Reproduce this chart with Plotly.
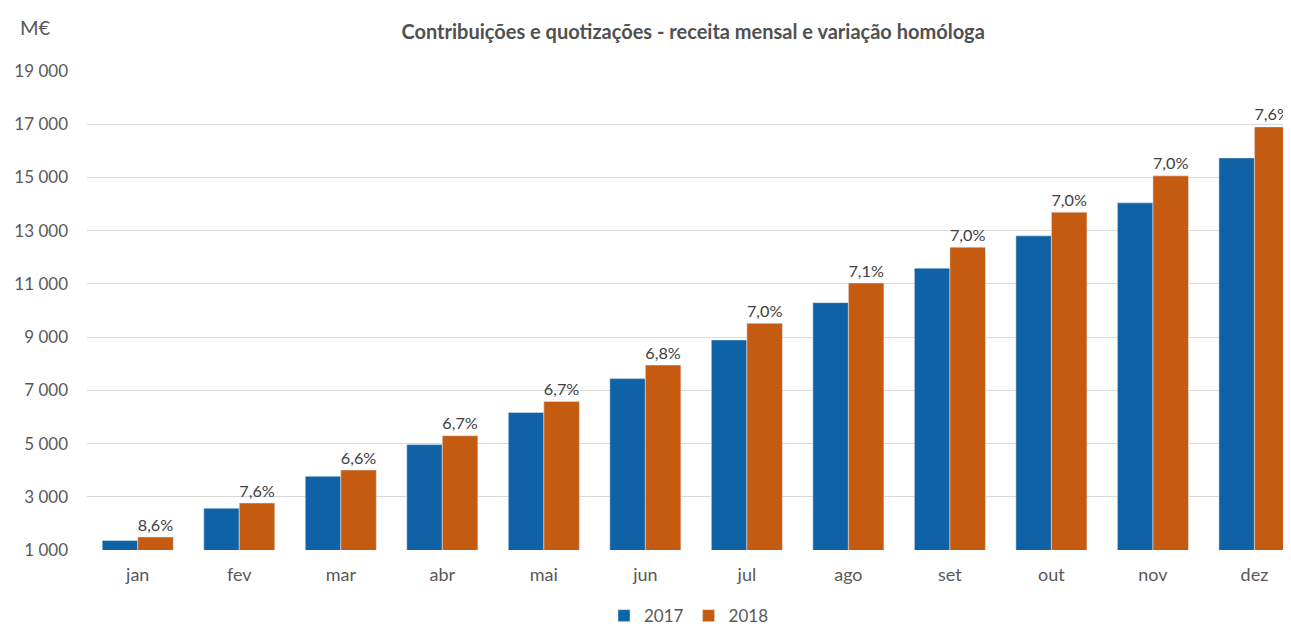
import plotly.graph_objects as go

months = ["jan", "fev", "mar", "abr", "mai", "jun", "jul", "ago", "set", "out", "nov", "dez"]
v2017 = [1355, 2570, 3770, 4960, 6165, 7440, 8895, 10295, 11590, 12805, 14045, 15735]
v2018 = [1490, 2765, 4005, 5295, 6585, 7950, 9520, 11035, 12380, 13695, 15060, 16900]
growth = ["8,6%", "7,6%", "6,6%", "6,7%", "6,7%", "6,8%", "7,0%", "7,1%", "7,0%", "7,0%", "7,0%", "7,6%"]
y_ticks = [1000, 3000, 5000, 7000, 9000, 11000, 13000, 15000, 17000, 19000]
y_labels = ["1 000", "3 000", "5 000", "7 000", "9 000", "11 000", "13 000", "15 000", "17 000", "19 000"]

FONT = "Lato"
TXT = "#595959"

fig = go.Figure()
fig.add_trace(go.Bar(name="2017", x=months, y=v2017, marker=dict(color="#0E62A5"),
                     hoverinfo="y"))
fig.add_trace(go.Bar(name="2018", x=months, y=v2018, marker=dict(color="#C55A11"),
                     text=growth, textposition="outside", cliponaxis=False,
                     textfont=dict(family=FONT, size=19, color="#404040"),
                     hoverinfo="y"))

# the page body adds an 8px offset, so the figure is 8px smaller on each axis
fig.update_layout(
    width=1283, height=619,
    margin=dict(l=79, r=0, t=63, b=77, autoexpand=False),
    paper_bgcolor="white", plot_bgcolor="white",
    barmode="group", bargap=0.3, bargroupgap=0,
    font=dict(family=FONT, color=TXT, size=16),
    title=dict(text="Contribuições e quotizações - receita mensal e variação homóloga",
               x=0.534, xanchor="center", y=0.961, yanchor="middle",
               font=dict(family=FONT, size=20, color="#505050", weight="bold")),
    xaxis=dict(range=[-0.5, 11.36], showgrid=False, showline=False, zeroline=False,
               tickfont=dict(family=FONT, size=18, color=TXT), ticks="", ticklabelstandoff=12),
    yaxis=dict(range=[1000, 19000], tickvals=y_ticks, ticktext=y_labels,
               showgrid=True, gridcolor="#D9D9D9", gridwidth=1, zeroline=False, showline=False,
               tickfont=dict(family=FONT, size=17, color=TXT), ticks="", ticklabelstandoff=18),
    legend=dict(orientation="h", x=0.5, xanchor="center", y=-0.138, yanchor="middle",
                font=dict(family=FONT, size=17, color=TXT), itemwidth=30, tracegroupgap=0),
    showlegend=True,
)
fig.add_annotation(text="M€", xref="paper", yref="paper", x=-0.0573, xanchor="left",
                   y=1.092, yanchor="middle", showarrow=False,
                   font=dict(family=FONT, size=20, color=TXT))

fig.write_html("out.html")
